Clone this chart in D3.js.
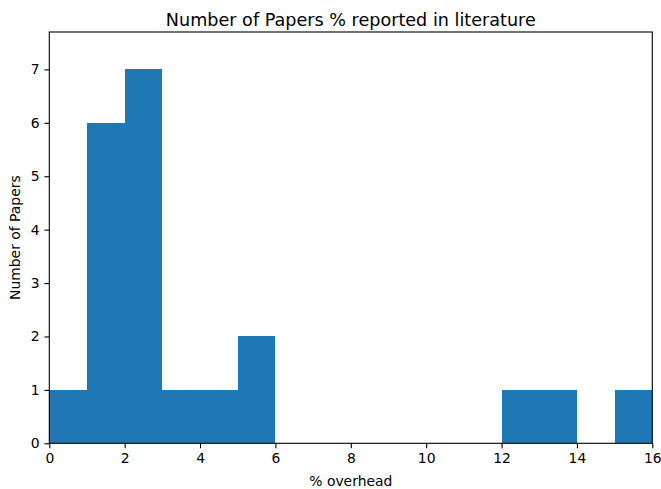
<!DOCTYPE html>
<html><head><meta charset="utf-8">
<script src="https://cdn.jsdelivr.net/npm/d3@7"></script>
<style>body{margin:0;background:#fff}svg{display:block}text{font-family:"DejaVu Sans",sans-serif;fill:#000}</style>
</head><body>
<script>
const binStarts = [0,1,2,3,4,5,6,7,8,9,10,11,12,13,14,15];
const binEnds   = [1,2,3,4,5,6,7,8,9,10,11,12,13,14,15,16];
const counts    = [1,6,7,1,1,2,0,0,0,0,0,0,1,1,0,1];
const xTicks = [0,2,4,6,8,10,12,14,16];
const yTicks = [0,1,2,3,4,5,6,7];
const title = "Number of Papers % reported in literature";
const xLabel = "% overhead";
const yLabel = "Number of Papers";

const W = 661, H = 489;
const m = {left:49.3, right:652.3, top:32, bottom:443.3};
const svg = d3.select("body").append("svg").attr("width",W).attr("height",H);
const x = d3.scaleLinear().domain([0,16]).range([m.left,m.right]);
const y = d3.scaleLinear().domain([0,7.7]).range([m.bottom,m.top]);

const data = binStarts.map((s,i)=>({s, e:binEnds[i], c:counts[i]}));
svg.append("g").attr("shape-rendering","crispEdges").selectAll("rect").data(data.filter(d=>d.c>0)).join("rect")
  .attr("x",d=>x(d.s)).attr("width",d=>x(d.e)-x(d.s))
  .attr("y",d=>y(d.c)).attr("height",d=>y(0)-y(d.c))
  .attr("fill","#1f77b4");

const xa = svg.append("g").attr("transform",`translate(0,${m.bottom})`)
  .call(d3.axisBottom(x).tickValues(xTicks).tickFormat(d3.format("d")).tickSize(4.9).tickPadding(4.9).tickSizeOuter(0));
const ya = svg.append("g").attr("transform",`translate(${m.left},0)`)
  .call(d3.axisLeft(y).tickValues(yTicks).tickFormat(d3.format("d")).tickSize(4.9).tickPadding(4.9).tickSizeOuter(0));
[xa,ya].forEach(a=>{a.select(".domain").remove();a.selectAll("text").style("font-size","13.9px").attr("font-family","DejaVu Sans");a.selectAll("line").attr("stroke","#000").attr("stroke-width",1.1);});

svg.append("rect").attr("x",m.left).attr("y",m.top).attr("width",m.right-m.left).attr("height",m.bottom-m.top)
  .attr("fill","none").attr("stroke","#000").attr("stroke-width",1.1);

svg.append("text").attr("x",(m.left+m.right)/2).attr("y",26).attr("text-anchor","middle").style("font-size","17.6px").text(title);
svg.append("text").attr("x",(m.left+m.right)/2).attr("y",485.5).attr("text-anchor","middle").style("font-size","13.9px").text(xLabel);
svg.append("text").attr("transform",`translate(20,${(m.top+m.bottom)/2}) rotate(-90)`).attr("text-anchor","middle").style("font-size","13.9px").text(yLabel);
</script>
</body></html>
